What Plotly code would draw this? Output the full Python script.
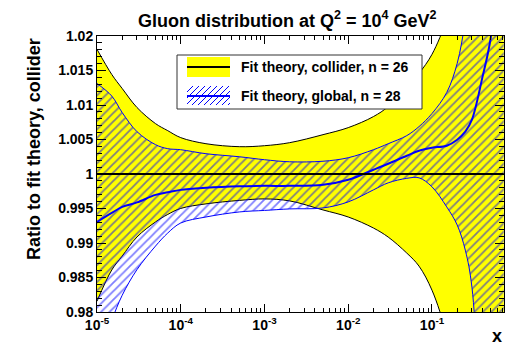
import plotly.graph_objects as go

# ---------------- data ----------------
x_vals = [1e-5, 1.5e-5, 2e-5, 3e-5, 5e-5, 7e-5, 1e-4, 2e-4, 5e-4, 1e-3, 2e-3, 5e-3,
          1e-2, 2e-2, 3e-2, 5e-2, 7e-2, 0.1, 0.15, 0.2, 0.25, 0.3, 0.4, 0.5, 0.72]

collider_upper = [1.01807, 1.01443, 1.01239, 1.00964, 1.00730, 1.00628, 1.00527, 1.00439,
                  1.00396, 1.00410, 1.00454, 1.00570, 1.00672, 1.00832, 1.00977, 1.01254,
                  1.01458, 1.01734, 1.02244, 1.0283, 1.0319, 1.0362, 1.0428, 1.0472, 1.0559]
collider_lower = [0.98156, 0.98609, 0.98810, 0.99087, 0.99305, 0.99414, 0.99501, 0.99567,
                  0.99617, 0.99639, 0.99610, 0.99479, 0.99377, 0.99217, 0.99086, 0.98854,
                  0.98665, 0.98316, 0.9769, 0.9715, 0.967, 0.962, 0.955, 0.950, 0.940]
collider_central = [1.0] * len(x_vals)

global_upper = [1.01312, 1.01130, 1.00890, 1.00614, 1.00425, 1.00367, 1.00352, 1.00294,
                1.00250, 1.00207, 1.00177, 1.00185, 1.00236, 1.00352, 1.00439, 1.00556,
                1.00687, 1.00876, 1.01181, 1.01603, 1.0221, 1.0282, 1.0355, 1.0399, 1.0472]
global_lower = [0.97297, 0.97879, 0.98243, 0.98614, 0.98956, 0.99145, 0.99290, 0.99377,
                0.99450, 0.99472, 0.99494, 0.99508, 0.99596, 0.99770, 0.99872, 0.99937,
                0.99945, 0.99814, 0.99523, 0.99261, 0.98897, 0.98359, 0.9600, 0.9500, 0.9400]
global_central = [0.99305, 0.99436, 0.99523, 0.99588, 0.99697, 0.99734, 0.99770, 0.99799,
                  0.99821, 0.99828, 0.99828, 0.99843, 0.99916, 1.00061, 1.00148, 1.00265,
                  1.00338, 1.00381, 1.00410, 1.00497, 1.00614, 1.00788, 1.0140, 1.01953, 1.037]

x_tick_vals = [1e-5, 1e-4, 1e-3, 1e-2, 1e-1]
x_tick_text = ["10<sup>-5</sup>", "10<sup>-4</sup>", "10<sup>-3</sup>", "10<sup>-2</sup>", "10<sup>-1</sup>"]
y_tick_vals = [0.98, 0.985, 0.99, 0.995, 1.0, 1.005, 1.01, 1.015, 1.02]
y_tick_text = ["0.98", "0.985", "0.99", "0.995", "1", "1.005", "1.01", "1.015", "1.02"]

legend_names = ["Fit theory, collider, n = 26", "Fit theory, global, n = 28"]

# ---------------- styles / layout geometry ----------------
YELLOW = "#ffff00"
BLUE = "#0000ff"
FONT = "Liberation Sans"
W, H = 515, 349
ML, MR, MT, MB = 97, 11, 36, 37
PW, PH = W - ML - MR, H - MT - MB


def px(xpix):
    return (xpix - ML) / PW


def py(ypix):
    return (H - MB - ypix) / PH


fig = go.Figure()

# collider band (yellow, black edges)
fig.add_trace(go.Scatter(x=x_vals, y=collider_lower, mode="lines",
                         line=dict(color="black", width=1, shape="spline"),
                         showlegend=False, hoverinfo="skip"))
fig.add_trace(go.Scatter(x=x_vals, y=collider_upper, mode="lines", fill="tonexty",
                         fillcolor=YELLOW, line=dict(color="black", width=1, shape="spline"),
                         showlegend=False, hoverinfo="skip"))

# global band (blue hatch, blue edges)
fig.add_trace(go.Scatter(x=x_vals, y=global_lower, mode="lines",
                         line=dict(color=BLUE, width=1, shape="spline"),
                         showlegend=False, hoverinfo="skip"))
fig.add_trace(go.Scatter(x=x_vals, y=global_upper, mode="lines", fill="tonexty",
                         fillcolor="rgba(0,0,0,0)",
                         fillpattern=dict(shape="/", fgcolor=BLUE, bgcolor="rgba(0,0,0,0)",
                                          size=6, solidity=0.3),
                         line=dict(color=BLUE, width=1, shape="spline"),
                         showlegend=False, hoverinfo="skip"))

# central lines
fig.add_trace(go.Scatter(x=x_vals, y=global_central, mode="lines",
                         line=dict(color=BLUE, width=2, shape="spline"),
                         showlegend=False, hoverinfo="skip"))
fig.add_trace(go.Scatter(x=x_vals, y=collider_central, mode="lines",
                         line=dict(color="black", width=2),
                         showlegend=False, hoverinfo="skip"))

axis_common = dict(showline=True, linecolor="black", linewidth=1, mirror="allticks",
                   ticks="inside", tickcolor="black", showgrid=False, zeroline=False,
                   tickfont=dict(family=FONT, size=14, color="black", weight="bold"))

fig.update_xaxes(type="log", range=[-5, -0.14], tickvals=x_tick_vals, ticktext=x_tick_text,
                 ticklen=8, tickwidth=1,
                 minor=dict(ticks="inside", ticklen=4, tickcolor="black", dtick="D1",
                            showgrid=False),
                 **axis_common)
fig.update_yaxes(range=[0.98, 1.02], tickvals=y_tick_vals, ticktext=y_tick_text,
                 ticklen=9, tickwidth=1,
                 minor=dict(ticks="inside", ticklen=5, tickcolor="black", dtick=0.001,
                            showgrid=False),
                 **axis_common)

# ---------------- hand-drawn legend (ROOT style) ----------------
shapes = []
# legend frame
shapes.append(dict(type="rect", xref="paper", yref="paper",
                   x0=px(177), x1=px(422), y0=py(109), y1=py(55),
                   fillcolor="white", line=dict(color="#333333", width=1), layer="above"))
# collider glyph: yellow box with black line
shapes.append(dict(type="rect", xref="paper", yref="paper",
                   x0=px(187), x1=px(230), y0=py(77), y1=py(57),
                   fillcolor=YELLOW, line=dict(width=0), layer="above"))
shapes.append(dict(type="line", xref="paper", yref="paper",
                   x0=px(187), x1=px(230), y0=py(67), y1=py(67),
                   line=dict(color="black", width=2), layer="above"))
# global glyph: blue hatching with blue line
gx0, gx1, gy0, gy1 = 187, 230, 86, 105
step = 6
c = gx0 - (gy1 - gy0)
while c < gx1:
    xa, ya = c, gy1
    xb, yb = c + (gy1 - gy0), gy0
    if xa < gx0:
        ya = gy1 - (gx0 - xa)
        xa = gx0
    if xb > gx1:
        yb = gy0 + (xb - gx1)
        xb = gx1
    if xb > xa:
        shapes.append(dict(type="line", xref="paper", yref="paper",
                           x0=px(xa), y0=py(ya), x1=px(xb), y1=py(yb),
                           line=dict(color=BLUE, width=1), layer="above"))
    c += step
shapes.append(dict(type="line", xref="paper", yref="paper",
                   x0=px(187), x1=px(230), y0=py(96), y1=py(96),
                   line=dict(color=BLUE, width=2), layer="above"))

annotations = [
    dict(text=legend_names[0], xref="paper", yref="paper", x=px(239), y=py(67),
         xanchor="left", yanchor="middle", showarrow=False,
         font=dict(family=FONT, size=14, color="black", weight="bold")),
    dict(text=legend_names[1], xref="paper", yref="paper", x=px(239), y=py(96),
         xanchor="left", yanchor="middle", showarrow=False,
         font=dict(family=FONT, size=14, color="black", weight="bold")),
    dict(text="Gluon distribution at Q<sup>2</sup> = 10<sup>4</sup> GeV<sup>2</sup>",
         xref="paper", yref="paper", x=px(287), y=py(20),
         xanchor="center", yanchor="middle", showarrow=False,
         font=dict(family=FONT, size=18, color="black", weight="bold")),
    dict(text="Ratio to fit theory, collider", textangle=-90,
         xref="paper", yref="paper", x=px(34), y=py(36),
         xanchor="center", yanchor="top", showarrow=False,
         font=dict(family=FONT, size=18, color="black", weight="bold")),
    dict(text="x", xref="paper", yref="paper", x=px(497), y=py(336),
         xanchor="center", yanchor="middle", showarrow=False,
         font=dict(family=FONT, size=18, color="black", weight="bold")),
]

fig.update_layout(
    width=W, height=H,
    margin=dict(l=ML, r=MR, t=MT, b=MB),
    paper_bgcolor="white", plot_bgcolor="white",
    showlegend=False,
    shapes=shapes,
    annotations=annotations,
)

fig.write_html("out.html",
               config={"displayModeBar": False},
               post_script="document.body.style.margin='0px';document.body.style.padding='0px';")
